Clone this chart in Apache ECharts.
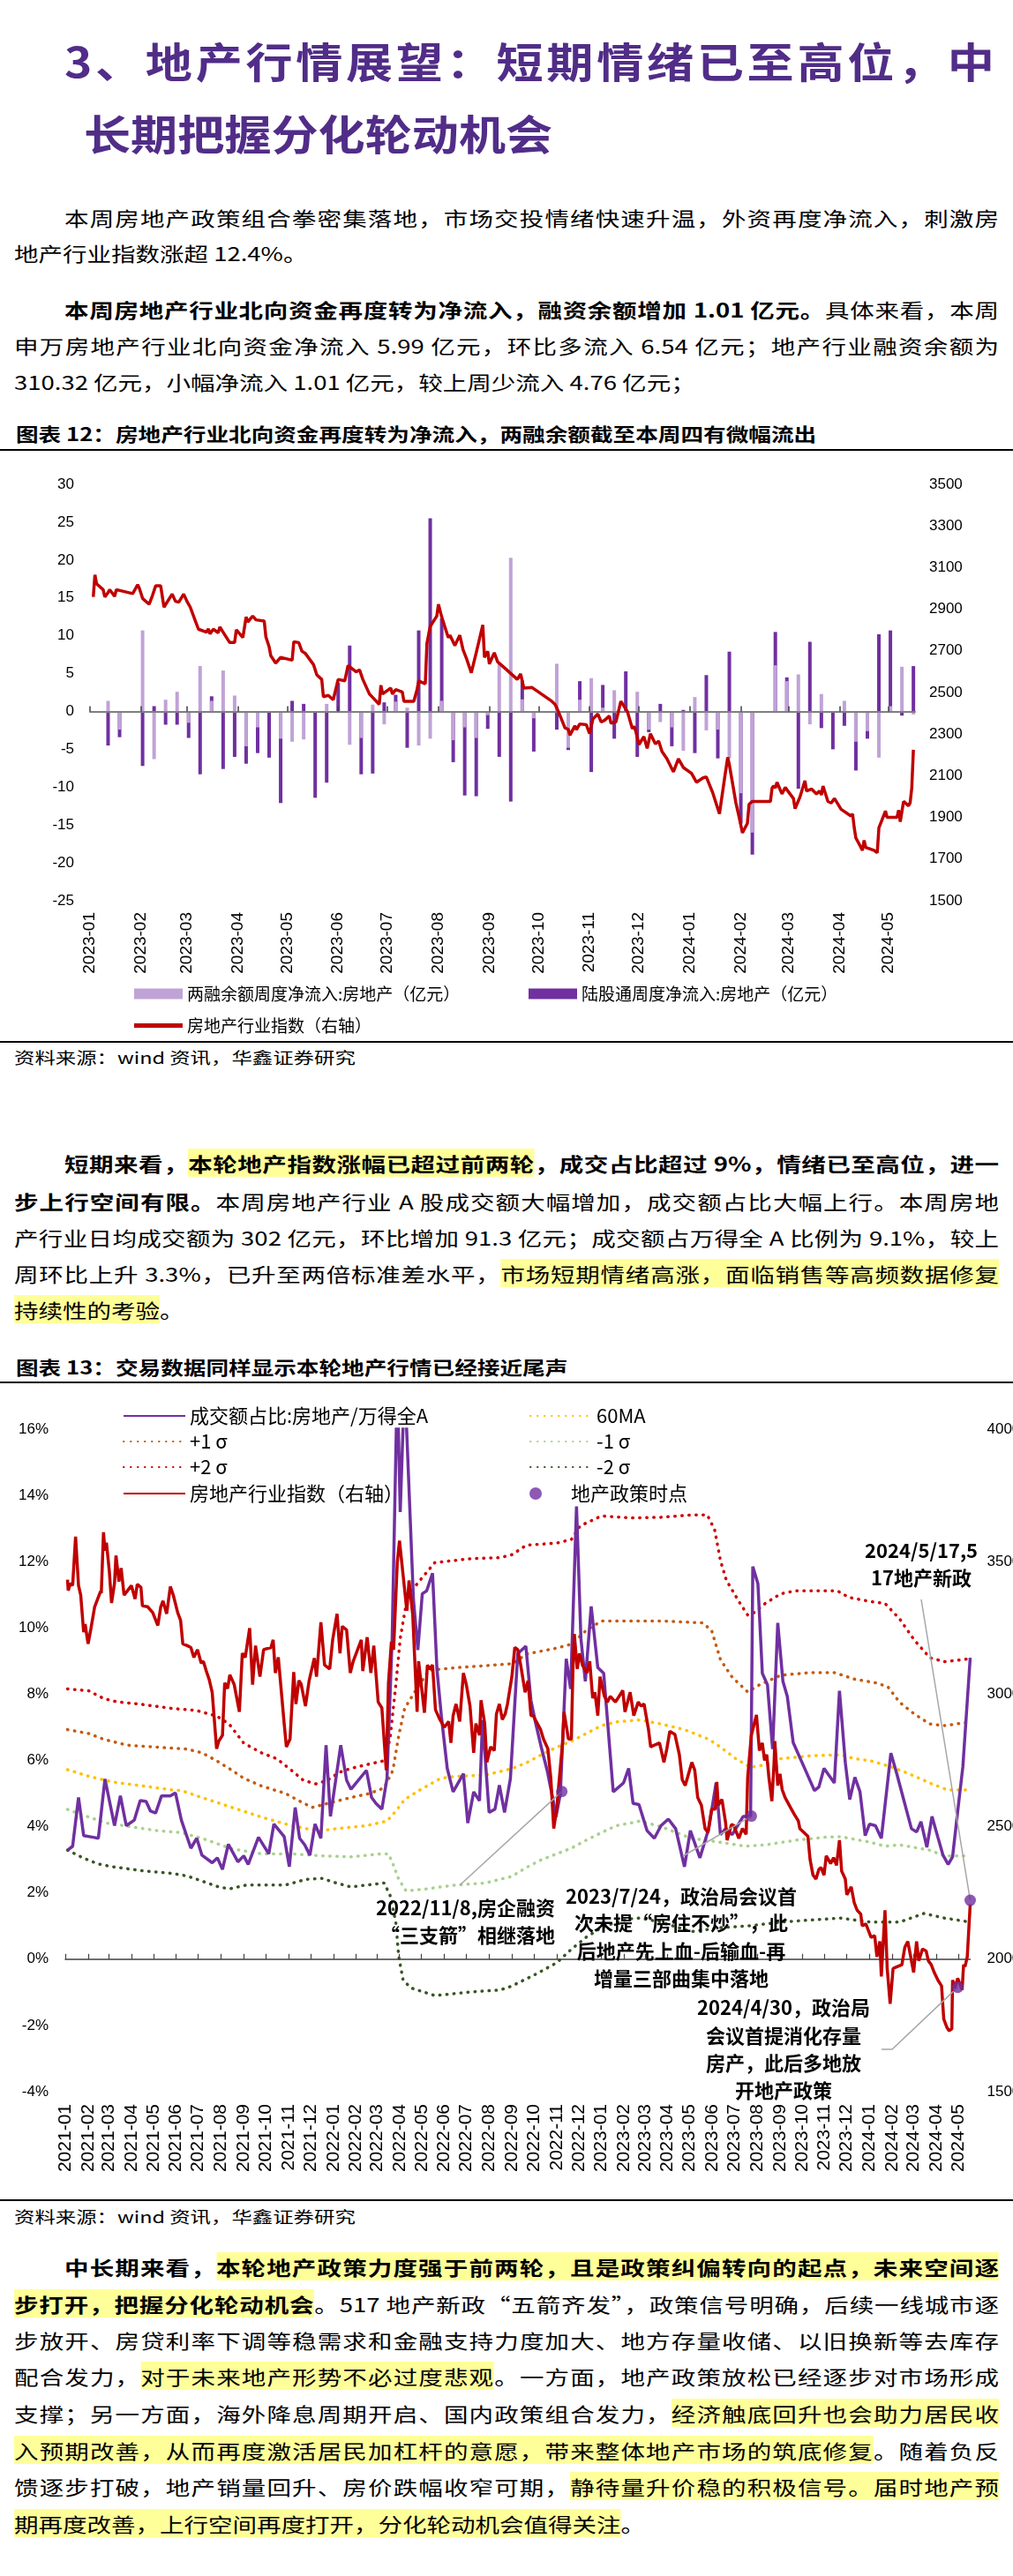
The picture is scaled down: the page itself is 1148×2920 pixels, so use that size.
<!DOCTYPE html>
<html><head><meta charset="utf-8">
<script src="https://cdn.jsdelivr.net/npm/echarts@6/dist/echarts.min.js"></script>
<style>
html,body{margin:0;padding:0;background:#fff;}
#page{position:relative;width:1148px;height:2920px;overflow:hidden;background:#fff;font-family:"Noto Sans CJK SC","Noto Sans",sans-serif;color:#000;}
.ln{position:absolute;white-space:nowrap;transform-origin:0 50%;}
.hl{background:#FFFF99;}
b{font-weight:700;}
.rule{position:absolute;left:0;width:1148px;height:2px;background:#000;}
.chart{position:absolute;left:0;width:1148px;}
</style></head>
<body><div id="page">
<div class="rule" style="top:509px"></div>
<div class="rule" style="top:1180px"></div>
<div class="rule" style="top:1566px"></div>
<div class="rule" style="top:2493px"></div>
<div id="c1" class="chart" style="top:515px;height:665px"></div>
<div id="c2" class="chart" style="top:1572px;height:918px"></div>
</div>
<script>
// ---------------- Chart 1 data ----------------
const c1Months = ['2023-01','2023-02','2023-03','2023-04','2023-05','2023-06','2023-07','2023-08','2023-09','2023-10','2023-11','2023-12','2024-01','2024-02','2024-03','2024-04','2024-05'];
const c1Weeks = ['2023-01-12','2023-01-19','2023-01-26','2023-02-02','2023-02-09','2023-02-16','2023-02-23','2023-03-02','2023-03-09','2023-03-16','2023-03-23','2023-03-30','2023-04-06','2023-04-13','2023-04-20','2023-04-27','2023-05-04','2023-05-11','2023-05-18','2023-05-25','2023-06-01','2023-06-08','2023-06-15','2023-06-22','2023-06-29','2023-07-06','2023-07-13','2023-07-20','2023-07-27','2023-08-03','2023-08-10','2023-08-17','2023-08-24','2023-08-31','2023-09-07','2023-09-14','2023-09-21','2023-09-28','2023-10-05','2023-10-12','2023-10-19','2023-10-26','2023-11-02','2023-11-09','2023-11-16','2023-11-23','2023-11-30','2023-12-07','2023-12-14','2023-12-21','2023-12-28','2024-01-04','2024-01-11','2024-01-18','2024-01-25','2024-02-01','2024-02-08','2024-02-15','2024-02-22','2024-02-29','2024-03-07','2024-03-14','2024-03-21','2024-03-28','2024-04-04','2024-04-11','2024-04-18','2024-04-25','2024-05-02','2024-05-09','2024-05-16'];
const c1Margin = [1.4,-2.4,0,10.7,-6.3,1.55,2.6,-1.5,6.0,1.4,5.4,2.1,-4.6,-2.1,0,-3.6,-4.0,-3.7,0,1.0,0,-4.4,-3.5,0.9,-1.7,1.3,0.5,-4.5,-3.6,1.4,-3.8,-2.1,-3.5,-0.5,6.3,20.3,1.6,-0.9,0,6.3,-4.8,1.55,4.4,0.5,2.8,0,2.6,-2.4,-1.4,-2.1,-5.2,1.9,-2.5,-2.4,-6.2,-10.8,-16.0,0,6.1,4.0,4.9,-1.7,2.3,0,1.4,-4.0,-2.6,-6.1,0.7,5.9,-0.4];
const c1Connect = [-4.5,-3.4,0,-7.2,0.7,-1.75,-1.75,-3.5,-8.3,2.0,-7.6,-6.0,-6.9,-5.5,-6.1,-12.1,1.4,1.0,-11.4,-9.4,3.8,8.7,-8.3,-8.2,1.2,2.2,-4.8,10.7,25.5,12.3,-6.7,-11.1,-11.2,-2.3,-6.0,-11.9,4.1,-5.3,0,-2.4,-5.1,4.0,-8.0,3.5,-3.6,5.3,-6.0,-2.75,1.0,-4.6,0.2,-5.5,4.8,-6.2,7.9,-14.8,-18.9,0,10.5,4.5,-10.2,9.2,-2.2,-5.0,-1.9,-7.8,-3.6,10.2,10.7,-0.55,5.99];
const c1Index = [['2023-01-03',2959],['2023-01-04',3065],['2023-01-05',3022],['2023-01-09',2994],['2023-01-10',2959],['2023-01-12',2980],['2023-01-13',2994],['2023-01-16',2962],['2023-01-17',2994],['2023-01-18',2990],['2023-01-27',2975],['2023-01-30',3018],['2023-01-31',3001],['2023-02-02',2952],['2023-02-06',2924],['2023-02-08',2966],['2023-02-10',3013],['2023-02-13',3013],['2023-02-15',2910],['2023-02-20',2973],['2023-02-22',2938],['2023-02-24',2934],['2023-02-27',2973],['2023-03-01',2938],['2023-03-03',2910],['2023-03-06',2846],['2023-03-07',2853],['2023-03-08',2804],['2023-03-13',2790],['2023-03-14',2806],['2023-03-15',2782],['2023-03-17',2804],['2023-03-20',2787],['2023-03-21',2815],['2023-03-23',2790],['2023-03-27',2740],['2023-03-30',2740],['2023-03-31',2801],['2023-04-04',2764],['2023-04-06',2863],['2023-04-07',2839],['2023-04-10',2867],['2023-04-12',2849],['2023-04-17',2843],['2023-04-18',2768],['2023-04-20',2719],['2023-04-21',2677],['2023-04-24',2641],['2023-04-27',2669],['2023-05-04',2655],['2023-05-05',2744],['2023-05-08',2740],['2023-05-10',2698],['2023-05-12',2688],['2023-05-17',2634],['2023-05-19',2585],['2023-05-22',2563],['2023-05-23',2480],['2023-05-26',2486],['2023-05-29',2465],['2023-06-01',2563],['2023-06-05',2556],['2023-06-07',2630],['2023-06-12',2599],['2023-06-14',2609],['2023-06-16',2563],['2023-06-20',2493],['2023-06-26',2443],['2023-06-27',2535],['2023-06-28',2493],['2023-07-03',2521],['2023-07-04',2493],['2023-07-06',2514],['2023-07-10',2503],['2023-07-11',2458],['2023-07-17',2458],['2023-07-19',2514],['2023-07-20',2556],['2023-07-24',2542],['2023-07-25',2736],['2023-07-27',2818],['2023-07-31',2867],['2023-08-01',2924],['2023-08-03',2863],['2023-08-07',2764],['2023-08-08',2775],['2023-08-11',2726],['2023-08-14',2775],['2023-08-16',2705],['2023-08-18',2665],['2023-08-21',2595],['2023-08-24',2691],['2023-08-28',2825],['2023-08-29',2669],['2023-08-31',2698],['2023-09-01',2637],['2023-09-04',2691],['2023-09-06',2648],['2023-09-11',2613],['2023-09-18',2563],['2023-09-20',2589],['2023-09-22',2521],['2023-09-27',2524],['2023-10-09',2458],['2023-10-11',2443],['2023-10-13',2408],['2023-10-17',2330],['2023-10-19',2323],['2023-10-20',2295],['2023-10-23',2340],['2023-10-24',2321],['2023-10-26',2349],['2023-10-30',2345],['2023-11-01',2302],['2023-11-03',2373],['2023-11-06',2397],['2023-11-08',2359],['2023-11-10',2366],['2023-11-13',2387],['2023-11-14',2352],['2023-11-17',2359],['2023-11-20',2458],['2023-11-24',2408],['2023-11-27',2326],['2023-11-28',2338],['2023-11-29',2316],['2023-12-01',2250],['2023-12-04',2288],['2023-12-06',2232],['2023-12-08',2302],['2023-12-11',2253],['2023-12-13',2267],['2023-12-15',2217],['2023-12-18',2182],['2023-12-19',2175],['2023-12-22',2119],['2023-12-25',2182],['2023-12-28',2140],['2023-12-29',2133],['2024-01-02',2112],['2024-01-05',2069],['2024-01-09',2090],['2024-01-11',2095],['2024-01-15',2016],['2024-01-16',2016],['2024-01-19',1917],['2024-01-22',2083],['2024-01-24',2189],['2024-01-25',2154],['2024-01-29',1970],['2024-01-31',1900],['2024-02-02',1826],['2024-02-05',1872],['2024-02-06',1963],['2024-02-08',1977],['2024-02-19',1977],['2024-02-20',2041],['2024-02-21',2052],['2024-02-22',2041],['2024-02-23',2069],['2024-02-26',2013],['2024-02-28',2044],['2024-03-04',1991],['2024-03-05',1942],['2024-03-08',1999],['2024-03-11',2076],['2024-03-12',2027],['2024-03-15',2037],['2024-03-18',2013],['2024-03-20',2027],['2024-03-21',2008],['2024-03-22',2051],['2024-03-25',1977],['2024-03-27',1970],['2024-03-29',1991],['2024-04-02',1939],['2024-04-08',1907],['2024-04-09',1917],['2024-04-10',1850],['2024-04-11',1801],['2024-04-12',1787],['2024-04-15',1742],['2024-04-16',1790],['2024-04-17',1756],['2024-04-22',1742],['2024-04-24',1730],['2024-04-25',1850],['2024-04-29',1931],['2024-04-30',1900],['2024-05-06',1900],['2024-05-07',1935],['2024-05-08',1879],['2024-05-10',1977],['2024-05-13',1956],['2024-05-14',1970],['2024-05-15',2041],['2024-05-16',2225]];
const c1Names = ['两融余额周度净流入:房地产（亿元）','陆股通周度净流入:房地产（亿元）','房地产行业指数（右轴）'];

// ---------------- Chart 2 data ----------------
const c2Months = ['2021-01','2021-02','2021-03','2021-04','2021-05','2021-06','2021-07','2021-08','2021-09','2021-10','2021-11','2021-12','2022-01','2022-02','2022-03','2022-04','2022-05','2022-06','2022-07','2022-08','2022-09','2022-10','2022-11','2022-12','2023-01','2023-02','2023-03','2023-04','2023-05','2023-06','2023-07','2023-08','2023-09','2023-10','2023-11','2023-12','2024-01','2024-02','2024-03','2024-04','2024-05'];
const c2Ratio = [['2021-01-04',3.29],['2021-01-11',3.41],['2021-01-19',4.88],['2021-01-26',3.73],['2021-02-08',3.68],['2021-02-15',3.65],['2021-02-24',5.44],['2021-03-09',4.03],['2021-03-17',4.93],['2021-03-25',4.03],['2021-04-05',4.20],['2021-04-13',4.79],['2021-04-21',4.76],['2021-04-27',4.47],['2021-05-04',4.41],['2021-05-12',4.93],['2021-05-24',4.93],['2021-05-31',5.02],['2021-06-08',4.20],['2021-06-21',3.35],['2021-06-29',3.65],['2021-07-06',3.14],['2021-07-20',2.91],['2021-07-27',3.06],['2021-08-03',2.71],['2021-08-11',3.47],['2021-08-24',2.94],['2021-09-01',3.12],['2021-09-07',2.86],['2021-09-21',3.68],['2021-10-05',3.18],['2021-10-12',4.08],['2021-10-26',3.70],['2021-11-02',2.79],['2021-11-10',4.58],['2021-11-16',3.65],['2021-11-23',3.45],['2021-11-30',3.14],['2021-12-07',4.08],['2021-12-15',3.65],['2021-12-22',6.46],['2021-12-28',4.31],['2022-01-11',6.46],['2022-01-19',5.40],['2022-01-25',5.13],['2022-02-15',5.70],['2022-02-22',4.88],['2022-02-28',4.70],['2022-03-08',4.53],['2022-03-15',5.46],['2022-03-22',9.68],['2022-03-29',17.5],['2022-04-02',13.5],['2022-04-08',17.5],['2022-04-20',10.86],['2022-04-26',9.33],['2022-05-02',11.03],['2022-05-08',11.12],['2022-05-16',11.65],['2022-05-22',8.75],['2022-05-28',7.34],['2022-06-05',5.76],['2022-06-13',5.05],['2022-06-27',5.60],['2022-07-03',4.11],['2022-07-11',5.05],['2022-07-19',4.78],['2022-07-23',7.22],['2022-08-01',4.43],['2022-08-09',4.53],['2022-08-15',5.25],['2022-08-22',4.43],['2022-08-30',5.45],['2022-09-09',9.22],['2022-09-20',9.45],['2022-09-27',7.81],['2022-10-03',7.16],['2022-10-11',6.40],['2022-10-19',5.70],['2022-10-27',4.82],['2022-10-31',4.29],['2022-11-06',4.99],['2022-11-14',9.07],['2022-11-20',8.16],['2022-11-28',13.67],['2022-12-04',9.68],['2022-12-10',8.39],['2022-12-18',10.65],['2022-12-27',8.80],['2023-01-04',8.63],['2023-01-17',5.05],['2023-01-31',5.32],['2023-02-07',5.76],['2023-02-13',4.70],['2023-02-21',4.67],['2023-03-04',3.88],['2023-03-14',3.65],['2023-03-23',4.03],['2023-04-02',4.23],['2023-04-12',3.94],['2023-04-24',2.79],['2023-05-02',3.88],['2023-05-15',3.06],['2023-05-27',3.94],['2023-06-06',5.32],['2023-06-12',3.76],['2023-06-19',3.94],['2023-06-28',3.76],['2023-07-13',4.31],['2023-07-23',4.31],['2023-07-26',11.85],['2023-08-02',11.33],['2023-08-08',8.63],['2023-08-15',8.28],['2023-08-22',6.34],['2023-08-29',10.15],['2023-09-05',8.39],['2023-09-11',7.93],['2023-09-19',6.54],['2023-10-04',5.79],['2023-10-18',5.09],['2023-10-24',5.20],['2023-10-31',5.76],['2023-11-14',5.32],['2023-11-21',8.10],['2023-11-29',5.93],['2023-12-05',4.82],['2023-12-12',5.49],['2023-12-19',5.05],['2023-12-26',3.73],['2024-01-01',4.08],['2024-01-09',4.03],['2024-01-17',3.65],['2024-01-30',6.22],['2024-02-07',5.60],['2024-02-27',3.94],['2024-03-05',3.84],['2024-03-11',4.15],['2024-03-19',3.38],['2024-03-26',4.31],['2024-04-03',3.68],['2024-04-10',3.14],['2024-04-17',2.86],['2024-04-23',3.09],['2024-04-30',4.47],['2024-05-07',5.81],['2024-05-17',9.10]];
const c2MA60 = [['2021-01-04',5.72],['2021-02-02',5.52],['2021-03-06',5.35],['2021-04-16',5.23],['2021-05-26',5.11],['2021-06-08',5.09],['2021-07-06',4.88],['2021-08-16',4.58],['2021-09-25',4.29],['2021-10-28',4.08],['2021-11-25',3.94],['2021-12-16',3.88],['2022-01-05',3.94],['2022-02-15',4.03],['2022-03-15',4.17],['2022-03-27',4.47],['2022-04-08',4.82],['2022-04-29',5.11],['2022-05-27',5.46],['2022-06-17',5.52],['2022-07-27',5.56],['2022-09-01',5.75],['2022-09-21',5.93],['2022-10-11',6.17],['2022-11-01',6.40],['2022-11-21',6.58],['2022-12-11',6.81],['2023-01-01',7.05],['2023-01-21',7.16],['2023-02-10',7.20],['2023-02-22',7.22],['2023-03-23',7.10],['2023-04-24',6.93],['2023-05-27',6.64],['2023-06-12',6.40],['2023-07-03',6.05],['2023-07-23',5.79],['2023-08-12',5.87],['2023-09-02',6.05],['2023-10-12',6.14],['2023-11-22',6.17],['2023-12-12',6.05],['2024-01-02',5.99],['2024-01-30',5.81],['2024-02-19',5.64],['2024-03-23',5.32],['2024-04-16',5.11],['2024-05-17',5.11]];
const c2Plus1 = [['2021-01-04',6.93],['2021-02-02',6.81],['2021-02-22',6.64],['2021-03-26',6.46],['2021-05-06',6.40],['2021-06-16',6.34],['2021-07-06',6.23],['2021-07-26',5.99],['2021-08-16',5.70],['2021-09-01',5.46],['2021-09-25',5.23],['2021-10-28',5.00],['2021-11-17',4.76],['2021-12-03',4.58],['2021-12-24',4.70],['2022-01-25',4.88],['2022-02-19',5.00],['2022-03-11',5.17],['2022-03-23',5.70],['2022-03-31',6.75],['2022-04-08',7.57],['2022-04-21',8.04],['2022-05-11',8.72],['2022-06-17',8.80],['2022-07-27',8.86],['2022-09-02',8.92],['2022-09-21',9.21],['2022-11-01',9.39],['2022-11-21',9.51],['2022-12-11',9.92],['2023-01-01',10.21],['2023-02-10',10.21],['2023-03-23',10.21],['2023-05-19',10.15],['2023-05-31',9.92],['2023-06-12',9.04],['2023-06-28',8.51],['2023-07-19',8.07],['2023-08-04',8.28],['2023-09-02',8.57],['2023-10-12',8.65],['2023-11-14',8.65],['2023-12-12',8.45],['2024-01-10',8.34],['2024-01-26',8.22],['2024-02-11',7.75],['2024-03-02',7.40],['2024-03-23',7.10],['2024-04-12',7.05],['2024-05-17',7.16]];
const c2Minus1 = [['2021-01-04',4.52],['2021-01-25',4.35],['2021-02-26',4.11],['2021-03-31',4.00],['2021-05-06',3.88],['2021-06-08',3.82],['2021-07-06',3.65],['2021-08-16',3.33],['2021-09-25',3.18],['2021-11-05',3.18],['2021-12-16',3.12],['2022-01-25',3.09],['2022-03-07',3.18],['2022-03-17',3.18],['2022-03-23',2.88],['2022-03-31',2.41],['2022-04-10',2.06],['2022-05-07',2.12],['2022-06-17',2.24],['2022-07-27',2.30],['2022-09-01',2.50],['2022-09-21',2.77],['2022-10-11',3.00],['2022-11-01',3.18],['2022-11-21',3.35],['2022-12-11',3.59],['2023-01-01',3.82],['2023-01-21',4.03],['2023-02-10',4.11],['2023-02-22',4.17],['2023-03-23',4.00],['2023-05-03',3.65],['2023-06-12',3.53],['2023-07-15',3.41],['2023-08-12',3.45],['2023-09-22',3.59],['2023-11-01',3.68],['2023-11-22',3.70],['2024-01-02',3.53],['2024-01-22',3.41],['2024-02-11',3.45],['2024-03-23',3.29],['2024-04-12',3.12],['2024-05-17',3.12]];
const c2Plus2 = [['2021-01-04',8.16],['2021-02-02',8.10],['2021-02-22',7.87],['2021-03-12',7.77],['2021-04-16',7.69],['2021-05-26',7.57],['2021-06-28',7.51],['2021-07-26',7.34],['2021-08-12',7.10],['2021-09-01',6.52],['2021-09-25',6.23],['2021-10-16',6.05],['2021-11-05',5.70],['2021-11-21',5.40],['2021-12-08',5.29],['2021-12-24',5.40],['2022-01-09',5.64],['2022-01-25',5.76],['2022-02-15',5.87],['2022-03-11',5.99],['2022-03-19',6.64],['2022-03-27',8.28],['2022-04-02',9.68],['2022-04-12',10.97],['2022-04-29',11.44],['2022-05-19',11.97],['2022-07-07',12.09],['2022-08-16',12.12],['2022-09-01',12.21],['2022-09-21',12.50],['2022-11-01',12.56],['2022-11-21',12.67],['2022-12-03',13.08],['2023-01-01',13.38],['2023-02-10',13.32],['2023-03-23',13.34],['2023-05-03',13.41],['2023-05-25',13.41],['2023-06-04',12.97],['2023-06-12',12.03],['2023-06-20',11.44],['2023-07-07',10.80],['2023-07-19',10.39],['2023-07-27',10.45],['2023-08-12',10.74],['2023-09-02',11.03],['2023-09-22',11.12],['2023-11-18',11.12],['2023-12-04',10.92],['2024-01-01',10.80],['2024-01-22',10.74],['2024-02-11',10.27],['2024-03-02',9.63],['2024-03-23',9.10],['2024-04-12',8.98],['2024-05-17',9.07]];
const c2Minus2 = [['2021-01-04',3.29],['2021-01-25',3.06],['2021-02-14',2.88],['2021-03-06',2.79],['2021-04-16',2.67],['2021-05-26',2.59],['2021-06-16',2.51],['2021-07-06',2.36],['2021-07-26',2.20],['2021-08-12',2.12],['2021-09-05',2.24],['2021-10-28',2.24],['2021-11-25',2.41],['2021-12-16',2.44],['2022-01-05',2.30],['2022-01-25',2.18],['2022-03-11',2.30],['2022-03-19',1.94],['2022-03-27',1.12],['2022-03-31',0.07],['2022-04-06',-0.64],['2022-04-17',-0.87],['2022-05-19',-1.10],['2022-07-07',-0.99],['2022-08-16',-0.93],['2022-09-01',-0.81],['2022-09-12',-0.69],['2022-10-03',-0.46],['2022-11-01',-0.11],['2022-11-21',0.30],['2022-12-11',0.66],['2023-01-01',0.95],['2023-01-21',1.12],['2023-02-10',1.22],['2023-02-22',1.24],['2023-03-23',1.12],['2023-05-03',0.83],['2023-06-12',0.95],['2023-07-23',1.01],['2023-09-02',1.12],['2023-10-12',1.18],['2023-11-22',1.24],['2024-01-02',1.12],['2024-02-11',1.12],['2024-03-15',1.38],['2024-04-12',1.24],['2024-05-17',1.12]];
const c2Index = [['2021-01-04',3432],['2021-01-05',3391],['2021-01-08',3418],['2021-01-11',3410],['2021-01-15',3594],['2021-01-19',3410],['2021-01-22',3374],['2021-01-26',3234],['2021-01-28',3264],['2021-02-01',3190],['2021-02-05',3249],['2021-02-10',3330],['2021-02-18',3388],['2021-02-19',3381],['2021-02-22',3611],['2021-02-24',3542],['2021-02-26',3572],['2021-03-02',3462],['2021-03-05',3344],['2021-03-09',3418],['2021-03-11',3523],['2021-03-15',3425],['2021-03-18',3476],['2021-03-22',3374],['2021-03-26',3388],['2021-04-01',3410],['2021-04-06',3359],['2021-04-09',3415],['2021-04-14',3403],['2021-04-16',3333],['2021-04-23',3330],['2021-04-30',3308],['2021-05-07',3259],['2021-05-11',3330],['2021-05-14',3352],['2021-05-19',3303],['2021-05-24',3406],['2021-05-28',3374],['2021-06-03',3308],['2021-06-07',3278],['2021-06-10',3190],['2021-06-16',3183],['2021-06-21',3176],['2021-06-25',3139],['2021-06-30',3168],['2021-07-05',3117],['2021-07-08',3124],['2021-07-12',3087],['2021-07-16',3054],['2021-07-20',3007],['2021-07-26',2794],['2021-07-29',2823],['2021-08-03',2845],['2021-08-06',3043],['2021-08-10',3021],['2021-08-13',3073],['2021-08-19',3036],['2021-08-26',2933],['2021-08-30',3154],['2021-09-03',3139],['2021-09-09',3249],['2021-09-13',3036],['2021-09-17',3183],['2021-09-23',3066],['2021-09-28',3168],['2021-10-08',3176],['2021-10-11',3205],['2021-10-14',3080],['2021-10-18',3139],['2021-10-26',2889],['2021-10-29',2801],['2021-11-03',2831],['2021-11-08',3083],['2021-11-11',2963],['2021-11-15',3051],['2021-11-18',3039],['2021-11-24',2955],['2021-11-29',3051],['2021-12-06',3136],['2021-12-09',3066],['2021-12-15',3271],['2021-12-20',3110],['2021-12-27',3095],['2021-12-31',3205],['2022-01-06',3303],['2022-01-10',3154],['2022-01-13',3256],['2022-01-19',3242],['2022-01-24',3080],['2022-01-28',3124],['2022-02-08',3205],['2022-02-10',3087],['2022-02-16',3215],['2022-02-21',3080],['2022-02-25',3183],['2022-03-03',2970],['2022-03-08',2948],['2022-03-14',2713],['2022-03-17',3043],['2022-03-21',3198],['2022-03-24',3168],['2022-03-29',3498],['2022-04-01',3579],['2022-04-06',3447],['2022-04-11',3315],['2022-04-14',3429],['2022-04-19',3300],['2022-04-25',2933],['2022-04-27',3124],['2022-05-05',2930],['2022-05-09',3110],['2022-05-12',3095],['2022-05-16',3110],['2022-05-20',2941],['2022-05-26',2904],['2022-06-01',2875],['2022-06-07',2897],['2022-06-10',2816],['2022-06-13',2919],['2022-06-17',2963],['2022-06-22',2897],['2022-06-27',3080],['2022-07-01',3036],['2022-07-06',2955],['2022-07-11',2779],['2022-07-14',2889],['2022-07-19',2845],['2022-07-21',2977],['2022-07-26',2889],['2022-07-29',2743],['2022-08-03',2801],['2022-08-08',2787],['2022-08-11',2926],['2022-08-15',2963],['2022-08-19',2904],['2022-08-23',2926],['2022-08-26',2963],['2022-09-01',3066],['2022-09-05',3176],['2022-09-09',3168],['2022-09-13',3110],['2022-09-19',3007],['2022-09-23',3051],['2022-09-27',2919],['2022-09-30',2919],['2022-10-10',2867],['2022-10-14',2831],['2022-10-20',2794],['2022-10-24',2684],['2022-10-28',2493],['2022-11-01',2566],['2022-11-04',2662],['2022-11-09',2816],['2022-11-11',2933],['2022-11-17',2831],['2022-11-21',2831],['2022-11-23',3080],['2022-11-25',3227],['2022-11-29',3095],['2022-12-02',3154],['2022-12-06',3110],['2022-12-12',3080],['2022-12-16',3124],['2022-12-20',2985],['2022-12-23',3007],['2022-12-27',2919],['2022-12-30',3066],['2023-01-05',2992],['2023-01-09',2970],['2023-01-13',2992],['2023-01-20',2970],['2023-01-30',3014],['2023-02-02',2933],['2023-02-09',3007],['2023-02-14',2919],['2023-02-20',2970],['2023-02-24',2955],['2023-02-28',2963],['2023-03-06',2867],['2023-03-09',2801],['2023-03-15',2809],['2023-03-21',2816],['2023-03-27',2743],['2023-03-31',2794],['2023-04-04',2860],['2023-04-11',2848],['2023-04-17',2772],['2023-04-21',2677],['2023-04-25',2655],['2023-04-28',2684],['2023-05-04',2743],['2023-05-08',2713],['2023-05-12',2610],['2023-05-17',2581],['2023-05-22',2493],['2023-05-26',2478],['2023-05-31',2566],['2023-06-05',2566],['2023-06-07',2669],['2023-06-09',2581],['2023-06-14',2603],['2023-06-19',2515],['2023-06-21',2449],['2023-06-27',2508],['2023-06-30',2505],['2023-07-07',2456],['2023-07-12',2493],['2023-07-17',2471],['2023-07-19',2684],['2023-07-24',2845],['2023-07-31',2922],['2023-08-04',2787],['2023-08-08',2816],['2023-08-11',2750],['2023-08-14',2772],['2023-08-17',2684],['2023-08-21',2596],['2023-08-24',2743],['2023-08-25',2823],['2023-08-29',2655],['2023-09-01',2699],['2023-09-04',2640],['2023-09-08',2610],['2023-09-15',2574],['2023-09-21',2544],['2023-09-26',2522],['2023-09-28',2493],['2023-10-09',2464],['2023-10-12',2376],['2023-10-16',2317],['2023-10-20',2302],['2023-10-24',2339],['2023-10-27',2346],['2023-10-31',2317],['2023-11-03',2390],['2023-11-09',2361],['2023-11-13',2383],['2023-11-17',2354],['2023-11-21',2449],['2023-11-24',2332],['2023-11-29',2302],['2023-12-01',2243],['2023-12-07',2273],['2023-12-11',2214],['2023-12-15',2185],['2023-12-20',2170],['2023-12-22',2126],['2023-12-27',2133],['2024-01-03',2082],['2024-01-08',2089],['2024-01-11',2009],['2024-01-15',2067],['2024-01-17',1935],['2024-01-22',2185],['2024-01-25',1965],['2024-01-29',1832],['2024-02-02',1965],['2024-02-08',1972],['2024-02-14',1979],['2024-02-18',2045],['2024-02-22',2067],['2024-02-26',2009],['2024-03-01',1950],['2024-03-05',2067],['2024-03-08',1994],['2024-03-13',2038],['2024-03-18',2031],['2024-03-21',1994],['2024-03-25',1979],['2024-03-29',1950],['2024-04-03',1921],['2024-04-08',1899],['2024-04-11',1774],['2024-04-15',1744],['2024-04-18',1730],['2024-04-22',1737],['2024-04-23',1921],['2024-04-26',1891],['2024-04-30',1928],['2024-05-06',1884],['2024-05-08',1979],['2024-05-10',1972],['2024-05-13',2009],['2024-05-17',2207]];
const c2PolicyDates = ['2022-11-08','2023-07-24','2024-04-30','2024-05-17'];
const c2PolicyValues = [2633,2540,1894,2222];
const c2Names = ['成交额占比:房地产/万得全A','60MA','+1 σ','-1 σ','+2 σ','-2 σ','房地产行业指数（右轴）','地产政策时点'];
const c2Notes = [
  ['2022/11/8,房企融资','“三支箭”相继落地'],
  ['2023/7/24，政治局会议首','次未提“房住不炒”，此','后地产先上血-后输血-再','增量三部曲集中落地'],
  ['2024/4/30，政治局','会议首提消化存量','房产，此后多地放','开地产政策'],
  ['2024/5/17,5','17地产新政']
];

// ---------------- Text blocks ----------------
const textLines = [
  {h:'3、地产行情展望：短期情绪已至高位，中', y:68, x:73, right:1127, size:47, sx:1.13, bold:1, color:'#512D88', lh:56},
  {h:'长期把握分化轮动机会', y:150, x:95, size:47, sx:1.13, bold:1, color:'#512D88', lh:56, nj:1},
  {h:'本周房地产政策组合拳密集落地，市场交投情绪快速升温，外资再度净流入，刺激房', y:246, x:73},
  {h:'地产行业指数涨超 12.4%。', y:286, x:16, nj:1},
  {h:'<b>本周房地产行业北向资金再度转为净流入，融资余额增加 1.01 亿元。</b>具体来看，本周', y:350, x:73},
  {h:'申万房地产行业北向资金净流入 5.99 亿元，环比多流入 6.54 亿元；地产行业融资余额为', y:391, x:16},
  {h:'310.32 亿元，小幅净流入 1.01 亿元，较上周少流入 4.76 亿元；', y:432, x:16, nj:1},
  {h:'图表 12：房地产行业北向资金再度转为净流入，两融余额截至本周四有微幅流出', y:491, x:18, size:21, sx:1.22, bold:1, nj:1},
  {h:'资料来源：wind 资讯，华鑫证券研究', y:1198, x:16, size:18, sx:1.3, nj:1},
  {h:'<b>短期来看，<span class="hl">本轮地产指数涨幅已超过前两轮</span>，成交占比超过 9%，情绪已至高位，进一</b>', y:1318, x:73},
  {h:'<b>步上行空间有限。</b>本周房地产行业 A 股成交额大幅增加，成交额占比大幅上行。本周房地', y:1361, x:16},
  {h:'产行业日均成交额为 302 亿元，环比增加 91.3 亿元；成交额占万得全 A 比例为 9.1%，较上', y:1402, x:16},
  {h:'周环比上升 3.3%，已升至两倍标准差水平，<span class="hl">市场短期情绪高涨，面临销售等高频数据修复</span>', y:1443, x:16},
  {h:'<span class="hl">持续性的考验</span>。', y:1484, x:16, nj:1},
  {h:'图表 13：交易数据同样显示本轮地产行情已经接近尾声', y:1549, x:18, size:21, sx:1.22, bold:1, nj:1},
  {h:'资料来源：wind 资讯，华鑫证券研究', y:2512, x:16, size:18, sx:1.3, nj:1},
  {h:'<b>中长期来看，<span class="hl">本轮地产政策力度强于前两轮，且是政策纠偏转向的起点，未来空间逐</span></b>', y:2569, x:73},
  {h:'<b><span class="hl">步打开，把握分化轮动机会</span></b>。517 地产新政“五箭齐发”，政策信号明确，后续一线城市逐', y:2611, x:16},
  {h:'步放开、房贷利率下调等稳需求和金融支持力度加大、地方存量收储、以旧换新等去库存', y:2652, x:16},
  {h:'配合发力，<span class="hl">对于未来地产形势不必过度悲观</span>。一方面，地产政策放松已经逐步对市场形成', y:2693, x:16},
  {h:'支撑；另一方面，海外降息周期开启、国内政策组合发力，<span class="hl">经济触底回升也会助力居民收</span>', y:2735, x:16},
  {h:'<span class="hl">入预期改善，从而再度激活居民加杠杆的意愿，带来整体地产市场的筑底修复</span>。随着负反', y:2777, x:16},
  {h:'馈逐步打破，地产销量回升、房价跌幅收窄可期，<span class="hl">静待量升价稳的积极信号。届时地产预</span>', y:2818, x:16},
  {h:'<span class="hl">期再度改善，上行空间再度打开，分化轮动机会值得关注</span>。', y:2860, x:16, nj:1}
];
const page = document.getElementById('page');
textLines.forEach(o => {
  const size = o.size || 22, sx = o.sx || 1.25, right = o.right || 1132, lh = o.lh || 30;
  const d = document.createElement('div');
  d.className = 'ln';
  d.style.left = o.x + 'px';
  d.style.top = (o.y - lh / 2) + 'px';
  d.style.height = lh + 'px';
  d.style.lineHeight = lh + 'px';
  d.style.fontSize = size + 'px';
  d.style.transform = 'scaleX(' + sx + ')';
  d.style.width = ((right - o.x) / sx) + 'px';
  if (!o.nj) { d.style.textAlign = 'justify'; d.style.textAlignLast = 'justify'; }
  if (o.bold) d.style.fontWeight = '700';
  if (o.color) d.style.color = o.color;
  d.innerHTML = o.h;
  page.appendChild(d);
});

// ---------------- helpers ----------------
function ts(s) { const p = s.split('-').map(Number); return new Date(p[0], p[1] - 1, p[2] || 1).getTime(); }
function fmtMonth(v) { const d = new Date(v); return d.getFullYear() + '-' + String(d.getMonth() + 1).padStart(2, '0'); }
function plain(v) { return String(v); }
function pts(arr) { return arr.map(p => [ts(p[0]), p[1]]); }
const NUMFONT = '"Liberation Sans", Arial, sans-serif';
const CJK = '"Noto Sans CJK SC", "Noto Sans", sans-serif';

// ---------------- Chart 1 ----------------
const ch1 = echarts.init(document.getElementById('c1'));
const c1Ticks = c1Months.map(m => ts(m));
const c1Min = ts('2023-01-01'), c1Max = ts('2024-05-17');
function lg1(name, left, top, h) {
  return {data: [name], left: left, top: top, padding: 0, itemWidth: 55, itemHeight: h, icon: 'rect', selectedMode: false,
    textStyle: {fontSize: 19, color: '#000', fontFamily: CJK}};
}
ch1.setOption({
  animation: false,
  grid: {left: 102, right: 111, top: 34, height: 472, outerBoundsMode: 'none'},
  legend: [lg1(c1Names[0], 152, 602, 12), lg1(c1Names[1], 599, 602, 12), lg1(c1Names[2], 152, 638, 5)],
  xAxis: [
    {type: 'value', min: c1Min, max: c1Max, z: 5, scale: true,
      axisLine: {onZero: true, lineStyle: {color: '#7f7f7f', width: 2}},
      axisTick: {show: true, inside: true, length: 6, customValues: c1Ticks, lineStyle: {color: '#404040', width: 1.5}},
      axisLabel: {show: false}, splitLine: {show: false}},
    {type: 'value', min: c1Min, max: c1Max, position: 'bottom', scale: true,
      axisLine: {show: false, onZero: false}, axisTick: {show: false}, splitLine: {show: false},
      axisLabel: {show: true, rotate: 90, margin: 13, fontSize: 19, color: '#000', fontFamily: NUMFONT, customValues: c1Ticks, formatter: fmtMonth}}
  ],
  yAxis: [
    {type: 'value', min: -25, max: 30, interval: 5, axisLine: {show: false}, axisTick: {show: false}, splitLine: {show: false},
      axisLabel: {fontSize: 17, color: '#000', margin: 18, fontFamily: NUMFONT, formatter: plain}},
    {type: 'value', min: 1500, max: 3500, interval: 200, position: 'right', axisLine: {show: false}, axisTick: {show: false}, splitLine: {show: false},
      axisLabel: {fontSize: 17, color: '#000', margin: 16, fontFamily: NUMFONT, formatter: plain}}
  ],
  series: [
    {name: c1Names[1], type: 'bar', xAxisIndex: 0, yAxisIndex: 0, barWidth: 4, barGap: '-100%', z: 2,
      itemStyle: {color: '#7030A0'}, data: c1Weeks.map((d, i) => [ts(d), c1Connect[i]])},
    {name: c1Names[0], type: 'bar', xAxisIndex: 0, yAxisIndex: 0, barWidth: 4, barGap: '-100%', z: 3,
      itemStyle: {color: '#BFA3D6'}, data: c1Weeks.map((d, i) => [ts(d), c1Margin[i]])},
    {name: c1Names[2], type: 'line', xAxisIndex: 0, yAxisIndex: 1, symbol: 'none', z: 10,
      lineStyle: {color: '#C00000', width: 3.5}, itemStyle: {color: '#C00000'}, data: pts(c1Index)}
  ]
});

// ---------------- Chart 2 ----------------
const ch2 = echarts.init(document.getElementById('c2'));
const c2Ticks = c2Months.map(m => ts(m));
const c2Min = ts('2021-01-01'), c2Max = ts('2024-05-17');
function lg2(name, left, top, isDot) {
  const o = {data: [name], left: left, top: top, padding: 0, itemWidth: 70, itemHeight: 14, selectedMode: false,
    textStyle: {fontSize: 22, color: '#000', fontFamily: CJK}};
  if (!isDot) o.itemStyle = {opacity: 0};
  return o;
}
function dotted(name, data, color) {
  return {name: name, type: 'line', xAxisIndex: 0, yAxisIndex: 0, symbol: 'none', z: 3,
    lineStyle: {color: color, width: 3.5, type: [0.5, 7.5], cap: 'round'}, itemStyle: {color: color}, data: pts(data)};
}
ch2.setOption({
  animation: false,
  grid: {left: 74, right: 48.5, top: 48, height: 751, outerBoundsMode: 'none'},
  legend: [
    lg2(c2Names[0], 139, 22), lg2(c2Names[1], 600, 22),
    lg2(c2Names[2], 139, 51), lg2(c2Names[3], 600, 51),
    lg2(c2Names[4], 139, 80), lg2(c2Names[5], 600, 80),
    lg2(c2Names[6], 139, 110), lg2(c2Names[7], 600, 110, true)
  ],
  xAxis: [
    {type: 'value', min: c2Min, max: c2Max, z: 5, scale: true,
      axisLine: {onZero: true, lineStyle: {color: '#404040', width: 1.5}},
      axisTick: {show: true, inside: true, length: 6, customValues: c2Ticks, lineStyle: {color: '#404040', width: 1.2}},
      axisLabel: {show: false}, splitLine: {show: false}},
    {type: 'value', min: c2Min, max: c2Max, position: 'bottom', scale: true,
      axisLine: {show: false, onZero: false}, axisTick: {show: false}, splitLine: {show: false},
      axisLabel: {show: true, rotate: 90, margin: 14, fontSize: 21, color: '#000', fontFamily: NUMFONT, customValues: c2Ticks, formatter: fmtMonth}}
  ],
  yAxis: [
    {type: 'value', min: -4, max: 16, interval: 2, axisLine: {show: false}, axisTick: {show: false}, splitLine: {show: false},
      axisLabel: {fontSize: 17, color: '#000', margin: 19, fontFamily: NUMFONT, formatter: '{value}%'}},
    {type: 'value', min: 1500, max: 4000, interval: 500, position: 'right', axisLine: {show: false}, axisTick: {show: false}, splitLine: {show: false},
      axisLabel: {fontSize: 17, color: '#000', margin: 19, fontFamily: NUMFONT, formatter: plain}}
  ],
  series: [
    dotted(c2Names[1], c2MA60, '#FFC000'),
    dotted(c2Names[2], c2Plus1, '#C55A11'),
    dotted(c2Names[3], c2Minus1, '#A9D18E'),
    dotted(c2Names[4], c2Plus2, '#D00000'),
    dotted(c2Names[5], c2Minus2, '#375623'),
    {name: c2Names[0], type: 'line', xAxisIndex: 0, yAxisIndex: 0, symbol: 'none', z: 5,
      lineStyle: {color: '#7030A0', width: 3.5}, itemStyle: {color: '#7030A0'}, data: pts(c2Ratio)},
    {name: c2Names[6], type: 'line', xAxisIndex: 0, yAxisIndex: 1, symbol: 'none', z: 6,
      lineStyle: {color: '#C00000', width: 3.5}, itemStyle: {color: '#C00000'}, data: pts(c2Index)},
    {name: c2Names[7], type: 'scatter', xAxisIndex: 0, yAxisIndex: 1, symbol: 'circle', symbolSize: 13, z: 20,
      itemStyle: {color: '#7030A0'}, data: c2PolicyDates.map((d, i) => [ts(d), c2PolicyValues[i]])}
  ]
});

// annotations: text placed in layout, leader lines end at the policy dots
const dots = c2PolicyDates.map((d, i) => ch2.convertToPixel({seriesIndex: 7}, [ts(d), c2PolicyValues[i]]));
const noteFont = 'bold 22px "Noto Sans CJK SC", sans-serif';
const noteLayout = [
  {x: 629, ys: [591, 622], align: 'right', from: [[521, 565]]},
  {x: 772, ys: [578, 608, 640, 671], align: 'center', from: [[774, 532]]},
  {x: 888, ys: [704, 736, 767, 798], align: 'center', from: [[999, 751], [1011, 751]]},
  {x: 1044, ys: [186, 217], align: 'center', from: [[1044, 241]]}
];
const graphics = [];
noteLayout.forEach((n, k) => {
  graphics.push({type: 'polyline', z: 15, silent: true,
    shape: {points: n.from.concat([dots[k]])}, style: {stroke: '#A6A6A6', lineWidth: 1.5, fill: null}});
  n.ys.forEach((y, j) => {
    graphics.push({type: 'text', z: 16, silent: true, x: n.x, y: y,
      style: {text: c2Notes[k][j], font: noteFont, fill: '#000', align: n.align, verticalAlign: 'middle', textAlign: n.align, textVerticalAlign: 'middle'}});
  });
});
ch2.setOption({graphic: graphics});
</script>
</body></html>
